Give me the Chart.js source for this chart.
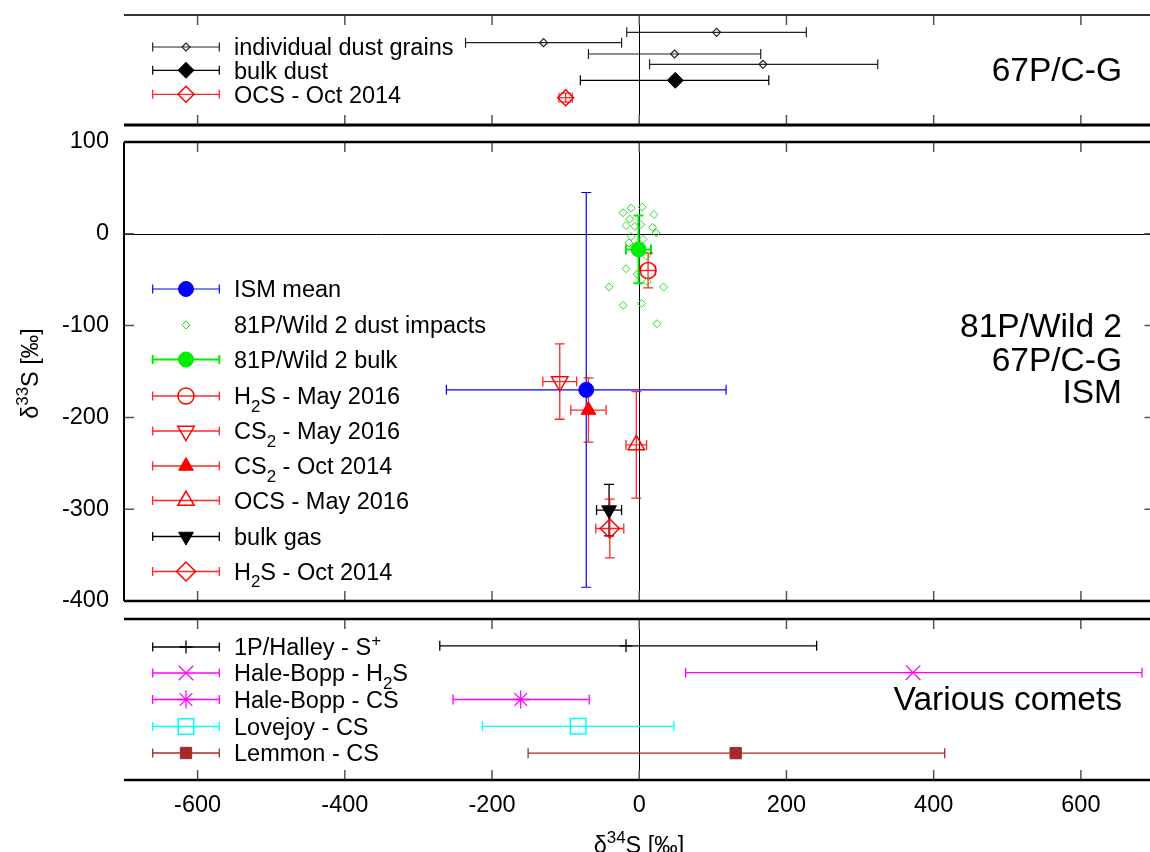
<!DOCTYPE html>
<html><head><meta charset="utf-8">
<script src="https://cdn.jsdelivr.net/npm/chart.js@4.4.1/dist/chart.umd.min.js"></script>
<style>
html,body{margin:0;padding:0;background:#fff;overflow:hidden;width:1150px;height:852px;}
canvas{position:absolute;left:0;top:0;}
</style></head><body>
<canvas id="cTop" width="1160" height="852"></canvas>
<canvas id="cMain" width="1160" height="852"></canvas>
<canvas id="cBot" width="1160" height="852"></canvas>
<script>
// ---------------- DATA ----------------
const xTickValues = [-600, -400, -200, 0, 200, 400, 600];
const yTickValues = [-400, -300, -200, -100, 0, 100];

// Top panel: 67P/C-G dust, delta34S value with low/high bounds, on panel rows
const grainD34  = [105, -130, 48, 168];
const grainLow  = [-17, -236, -69, 14];
const grainHigh = [227, -24, 165, 324];
const grainRow  = [9.27, 8.23, 7.1, 6.07];
const bulkDust  = [49, -80, 176];          // value, low, high
const bulkDustRow = [4.47];
const ocsOct2014 = [-100, 9, 0.45];         // value, x err, row err
const ocsOct2014Row = [2.73];

// Main panel: [delta34S, +/-err, delta33S, +/-err]
const ismMean    = [-72, 190, -170, 215];
const wild2Bulk  = [-1, 17, -17, 37];
const h2sMay2016 = [12, 10, -40, 19];
const cs2May2016 = [-108, 23, -161, 41];
const cs2Oct2014 = [-69, 24, -192, 35];
const ocsMay2016 = [-4, 14, -230, 58];
const bulkGas    = [-41, 17, -301, 28];
const h2sOct2014 = [-40, 19, -321, 32];
const wild2DustX = [-22, -11, 4, 20, -13, -18, -6, 2, 18, 23, -11, 5, -14, 10, -18, -3, 11, -41, 33, -22, 3, 24];
const wild2DustY = [23, 28, 29, 21, 16, 9, 8, 10, 7, 1, -3, -6, -10, -24, -38, -44, -52, -58, -58, -78, -76, -98];

// Bottom panel: various comets [delta34S, low, high]
const halley      = [-18, -271, 241];
const haleBoppH2S = [372, 63, 683];
const haleBoppCS  = [-161, -253, -68];
const lovejoyCS   = [-83, -213, 47];
const lemmonCS    = [131, -151, 415];
const cometRow    = [5, 4, 3, 2, 1];

// ---------------- STYLE / HELPERS ----------------
const FONT = '"Liberation Sans", Arial, Helvetica, sans-serif';
const TICK_FONT = 23.5, LEG_FONT = 23.5, NOTE_FONT = 33.5;
const X_MIN = -700, X_MAX = 700;
const LEG_X0 = 152.7, LEG_X1 = 219.3, LEG_XM = 186, LEG_XT = 234;
const NONE = 'rgba(0,0,0,0)';

function parseRich(s) {
  const segs = []; let buf = ''; let i = 0;
  while (i < s.length) {
    const c = s[i];
    if (c === '_' || c === '^') {
      if (buf) { segs.push({t: buf, k: 0}); buf = ''; }
      let t;
      if (s[i + 1] === '{') { const j = s.indexOf('}', i); t = s.slice(i + 2, j); i = j + 1; }
      else { t = s[i + 1]; i += 2; }
      segs.push({t, k: c === '_' ? 1 : -1});
    } else { buf += c; i++; }
  }
  if (buf) segs.push({t: buf, k: 0});
  return segs;
}
function drawRich(ctx, s, x, y, size, align) {
  const segs = parseRich(s);
  const small = size * 0.72;
  let w = 0;
  segs.forEach(g => { ctx.font = (g.k ? small : size) + 'px ' + FONT; g.w = ctx.measureText(g.t).width; w += g.w; });
  let cx = align === 'right' ? x - w : align === 'center' ? x - w / 2 : x;
  ctx.textAlign = 'left'; ctx.textBaseline = 'alphabetic';
  segs.forEach(g => {
    ctx.font = (g.k ? small : size) + 'px ' + FONT;
    const dy = g.k === 1 ? size * 0.3 : g.k === -1 ? -size * 0.42 : 0;
    ctx.fillText(g.t, cx, y + dy);
    cx += g.w;
  });
}
function drawMarker(ctx, ds, x, y) {
  ctx.save();
  ctx.fillStyle = ds.pointBackgroundColor; ctx.strokeStyle = ds.pointBorderColor; ctx.lineWidth = ds.pointBorderWidth;
  const o = {pointStyle: ds.pointStyle, rotation: ds.pointRotation || 0, radius: ds.pointRadius, borderWidth: ds.pointBorderWidth};
  if (Chart.helpers && Chart.helpers.drawPoint) Chart.helpers.drawPoint(ctx, o, x, y);
  ctx.restore();
}

function mk(label, pts, eb, color, ebColor, ebWidth, style, radius, filled, bw, rot) {
  return {label, data: pts, eb, ebColor, ebWidth,
    pointStyle: style, pointRadius: radius, pointHoverRadius: radius, pointRotation: rot || 0,
    pointBackgroundColor: filled ? color : NONE, pointBorderColor: color, pointBorderWidth: bw,
    backgroundColor: filled ? color : NONE, borderColor: color, clip: false};
}
function mainSeries(label, a, color, ebColor, ebWidth, style, radius, filled, bw, rot) {
  return mk(label, [{x: a[0], y: a[2]}], [{xl: a[0] - a[1], xh: a[0] + a[1], yl: a[2] - a[3], yh: a[2] + a[3]}],
    color, ebColor, ebWidth, style, radius, filled, bw, rot);
}
function cometSeries(label, a, row, color, style, radius, filled, bw) {
  return mk(label, [{x: a[0], y: row}], [{xl: a[1], xh: a[2]}], color, color, 1.3, style, radius, filled, bw);
}

// ---------------- PLUGINS ----------------
function zeroPlugin(horiz) {
  return {id: 'zeroLines', beforeDatasetsDraw(chart) {
    const ctx = chart.ctx, ca = chart.chartArea, xs = chart.scales.x, ys = chart.scales.y;
    ctx.save(); ctx.strokeStyle = '#000'; ctx.lineWidth = 1; ctx.beginPath();
    const px = Math.round(xs.getPixelForValue(0)) + 0.5;
    ctx.moveTo(px, ca.top); ctx.lineTo(px, ca.bottom);
    if (horiz) { const py = Math.round(ys.getPixelForValue(0)) + 0.5; ctx.moveTo(ca.left, py); ctx.lineTo(ca.right, py); }
    ctx.stroke(); ctx.restore();
  }};
}
const errorBarPlugin = {id: 'errorBars', beforeDatasetsDraw(chart) {
  const ctx = chart.ctx, xs = chart.scales.x, ys = chart.scales.y, c = 5;
  ctx.save();
  chart.data.datasets.forEach(ds => {
    if (!ds.eb) return;
    ctx.strokeStyle = ds.ebColor; ctx.lineWidth = ds.ebWidth || 1;
    ds.data.forEach((p, i) => {
      const e = ds.eb[i]; if (!e) return;
      const px = xs.getPixelForValue(p.x), py = ys.getPixelForValue(p.y);
      ctx.beginPath();
      if (e.xl != null) {
        const a = xs.getPixelForValue(e.xl), b = xs.getPixelForValue(e.xh);
        ctx.moveTo(a, py); ctx.lineTo(b, py);
        ctx.moveTo(a, py - c); ctx.lineTo(a, py + c);
        ctx.moveTo(b, py - c); ctx.lineTo(b, py + c);
      }
      if (e.yl != null) {
        const a = ys.getPixelForValue(e.yl), b = ys.getPixelForValue(e.yh);
        ctx.moveTo(px, a); ctx.lineTo(px, b);
        ctx.moveTo(px - c, a); ctx.lineTo(px + c, a);
        ctx.moveTo(px - c, b); ctx.lineTo(px + c, b);
      }
      ctx.stroke();
    });
  });
  ctx.restore();
}};
function framePlugin(o) {
  return {id: 'frame', afterDraw(chart) {
    const ctx = chart.ctx, ca = chart.chartArea, xs = chart.scales.x, ys = chart.scales.y;
    ctx.save();
    ctx.strokeStyle = '#555'; ctx.lineWidth = 1.5; ctx.beginPath();
    xTickValues.forEach(v => {
      const px = xs.getPixelForValue(v);
      if (o.tickTop) { ctx.moveTo(px, ca.top); ctx.lineTo(px, ca.top + 10); }
      if (o.tickBottom) { ctx.moveTo(px, ca.bottom); ctx.lineTo(px, ca.bottom - 10); }
    });
    if (o.yTicks) yTickValues.forEach(v => {
      const py = ys.getPixelForValue(v);
      ctx.moveTo(ca.left, py); ctx.lineTo(ca.left + 10, py);
      ctx.moveTo(ca.right, py); ctx.lineTo(ca.right - 10, py);
    });
    ctx.stroke();
    const ln = (x1, y1, x2, y2, w, col) => { ctx.strokeStyle = col; ctx.lineWidth = w; ctx.beginPath(); ctx.moveTo(x1, y1); ctx.lineTo(x2, y2); ctx.stroke(); };
    if (o.top) ln(ca.left, ca.top, ca.right, ca.top, o.top[0], o.top[1]);
    if (o.bottom) ln(ca.left, ca.bottom, ca.right, ca.bottom, o.bottom[0], o.bottom[1]);
    if (o.left) ln(ca.left, ca.top, ca.left, ca.bottom, o.left[0], o.left[1]);
    ctx.restore();
  }};
}
function legendPlugin(items) {
  return {id: 'rowLegend', afterDatasetsDraw(chart) {
    const ctx = chart.ctx;
    items.forEach(it => {
      const ds = chart.data.datasets[it.ds], y = it.y;
      if (ds.eb) {
        ctx.save(); ctx.strokeStyle = ds.ebColor; ctx.lineWidth = ds.ebWidth; ctx.beginPath();
        ctx.moveTo(LEG_X0, y); ctx.lineTo(LEG_X1, y);
        ctx.moveTo(LEG_X0, y - 4.5); ctx.lineTo(LEG_X0, y + 4.5);
        ctx.moveTo(LEG_X1, y - 4.5); ctx.lineTo(LEG_X1, y + 4.5);
        ctx.stroke(); ctx.restore();
      }
      drawMarker(ctx, ds, LEG_XM, y);
      ctx.save(); ctx.fillStyle = '#000';
      drawRich(ctx, ds.label, LEG_XT, y + LEG_FONT * 0.36, LEG_FONT, 'left');
      ctx.restore();
    });
  }};
}
function notesPlugin(notes) {
  return {id: 'notes', afterDraw(chart) {
    const ctx = chart.ctx;
    notes.forEach(n => {
      ctx.save(); ctx.fillStyle = '#000';
      if (n.rot) { ctx.translate(n.x, n.y); ctx.rotate(-Math.PI / 2); drawRich(ctx, n.text, 0, 0, n.size, n.align); }
      else drawRich(ctx, n.text, n.x, n.y, n.size, n.align);
      ctx.restore();
    });
  }};
}

const xScaleHidden = {type: 'linear', min: X_MIN, max: X_MAX, display: false,
  afterBuildTicks: s => { s.ticks = xTickValues.map(v => ({value: v})); }};
const common = {responsive: false, animation: false, devicePixelRatio: 1, events: [],
  plugins: {legend: {display: false}, tooltip: {enabled: false}}};

// ---------------- TOP PANEL ----------------
const topDatasets = [
  mk('individual dust grains', grainD34.map((v, i) => ({x: v, y: grainRow[i]})),
     grainD34.map((v, i) => ({xl: grainLow[i], xh: grainHigh[i]})), '#222', '#222', 1.2, 'rectRot', 4, false, 1.2),
  mk('bulk dust', [{x: bulkDust[0], y: bulkDustRow[0]}], [{xl: bulkDust[1], xh: bulkDust[2]}], '#000', '#000', 1.2, 'rectRot', 8, true, 1),
  mk('OCS - Oct 2014', [{x: ocsOct2014[0], y: ocsOct2014Row[0]}],
     [{xl: ocsOct2014[0] - ocsOct2014[1], xh: ocsOct2014[0] + ocsOct2014[1], yl: ocsOct2014Row[0] - ocsOct2014[2], yh: ocsOct2014Row[0] + ocsOct2014[2]}],
     '#ff0000', 'rgba(255,0,0,0.85)', 1.3, 'rectRot', 8, false, 1.5)
];
new Chart(document.getElementById('cTop'), {
  type: 'scatter', data: {datasets: topDatasets},
  options: Object.assign({}, common, {
    layout: {autoPadding: false, padding: {left: 124, right: 5.5, top: 15, bottom: 852 - 125}},
    scales: {x: xScaleHidden, y: {type: 'linear', min: 0, max: 11, display: false}}
  }),
  plugins: [zeroPlugin(false), errorBarPlugin,
    framePlugin({tickTop: true, tickBottom: true, top: [2, '#333'], bottom: [3, '#000']}),
    legendPlugin([{ds: 0, y: 47}, {ds: 1, y: 70.3}, {ds: 2, y: 94.3}]),
    notesPlugin([{text: '67P/C-G', x: 1122, y: 81, size: NOTE_FONT, align: 'right'}])]
});

// ---------------- MAIN PANEL ----------------
const RED = '#ff0000', REDEB = 'rgba(255,0,0,0.85)';
const mainDatasets = [
  mainSeries('ISM mean', ismMean, '#0000ff', '#0000ff', 1.2, 'circle', 7.5, true, 1),
  mk('81P/Wild 2 dust impacts', wild2DustX.map((v, i) => ({x: v, y: wild2DustY[i]})), null, '#22dd22', null, 1, 'rectRot', 4, false, 1),
  mainSeries('81P/Wild 2 bulk', wild2Bulk, '#00ee00', '#00ee00', 2, 'circle', 7.5, true, 1),
  mainSeries('H_2S - May 2016', h2sMay2016, RED, REDEB, 1.3, 'circle', 8, false, 1.5),
  mainSeries('CS_2 - May 2016', cs2May2016, RED, REDEB, 1.3, 'triangle', 9.5, false, 1.5, 180),
  mainSeries('CS_2 - Oct 2014', cs2Oct2014, RED, REDEB, 1.3, 'triangle', 8.5, true, 1),
  mainSeries('OCS - May 2016', ocsMay2016, RED, REDEB, 1.3, 'triangle', 9.5, false, 1.5),
  mainSeries('bulk gas', bulkGas, '#000', '#000', 1.3, 'triangle', 8.5, true, 1, 180),
  mainSeries('H_2S - Oct 2014', h2sOct2014, RED, REDEB, 1.3, 'rectRot', 9.5, false, 1.5)
];
new Chart(document.getElementById('cMain'), {
  type: 'scatter', data: {datasets: mainDatasets},
  options: Object.assign({}, common, {
    layout: {autoPadding: false, padding: {left: 0, right: 5.5, top: 142, bottom: 852 - 601}},
    scales: {
      x: xScaleHidden,
      y: {type: 'linear', min: -400, max: 100, position: 'left',
          afterBuildTicks: s => { s.ticks = yTickValues.map(v => ({value: v})); },
          afterFit: s => { s.width = 124; },
          grid: {display: false, drawTicks: false}, border: {display: false},
          ticks: {color: '#000', padding: 15, font: {family: FONT, size: TICK_FONT}}}
    }
  }),
  plugins: [zeroPlugin(true), errorBarPlugin,
    framePlugin({tickTop: true, tickBottom: true, yTicks: true, top: [2.5, '#000'], bottom: [2.5, '#000'], left: [2, '#000']}),
    legendPlugin([289, 325, 359.5, 396, 431, 466, 500.5, 536.5, 571.5].map((y, i) => ({ds: i, y}))),
    notesPlugin([
      {text: '81P/Wild 2', x: 1122, y: 337, size: NOTE_FONT, align: 'right'},
      {text: '67P/C-G', x: 1122, y: 370.5, size: NOTE_FONT, align: 'right'},
      {text: 'ISM', x: 1122, y: 403, size: NOTE_FONT, align: 'right'},
      {text: 'δ^{33}S [‰]', x: 37.5, y: 373.5, size: TICK_FONT, align: 'center', rot: true}
    ])]
});

// ---------------- BOTTOM PANEL ----------------
const botDatasets = [
  cometSeries('1P/Halley - S^+', halley, cometRow[0], '#000', 'cross', 6.5, false, 1.3),
  cometSeries('Hale-Bopp - H_2S', haleBoppH2S, cometRow[1], '#ff00ff', 'crossRot', 10.3, false, 1.3),
  cometSeries('Hale-Bopp - CS', haleBoppCS, cometRow[2], '#ff00ff', 'star', 9, false, 1.3),
  cometSeries('Lovejoy - CS', lovejoyCS, cometRow[3], '#00ffff', 'rect', 11, false, 1.5),
  cometSeries('Lemmon - CS', lemmonCS, cometRow[4], '#a52a2a', 'rect', 8, true, 1)
];
new Chart(document.getElementById('cBot'), {
  type: 'scatter', data: {datasets: botDatasets},
  options: Object.assign({}, common, {
    layout: {autoPadding: false, padding: {left: 124, right: 5.5, top: 619, bottom: 0}},
    scales: {
      x: {type: 'linear', min: X_MIN, max: X_MAX, position: 'bottom',
          afterBuildTicks: s => { s.ticks = xTickValues.map(v => ({value: v})); },
          afterFit: s => { s.height = 72; },
          grid: {display: false, drawTicks: false}, border: {display: false},
          ticks: {color: '#000', padding: 11, maxRotation: 0, autoSkip: false, font: {family: FONT, size: TICK_FONT}}},
      y: {type: 'linear', min: 0, max: 6, display: false}
    }
  }),
  plugins: [zeroPlugin(false), errorBarPlugin,
    framePlugin({tickTop: true, tickBottom: true, top: [2.5, '#000'], bottom: [2.5, '#000']}),
    legendPlugin([647, 673, 699.5, 726.5, 753].map((y, i) => ({ds: i, y}))),
    notesPlugin([
      {text: 'Various comets', x: 1122, y: 710, size: NOTE_FONT, align: 'right'},
      {text: 'δ^{34}S [‰]', x: 639, y: 853, size: TICK_FONT, align: 'center'}
    ])]
});
</script></body></html>
